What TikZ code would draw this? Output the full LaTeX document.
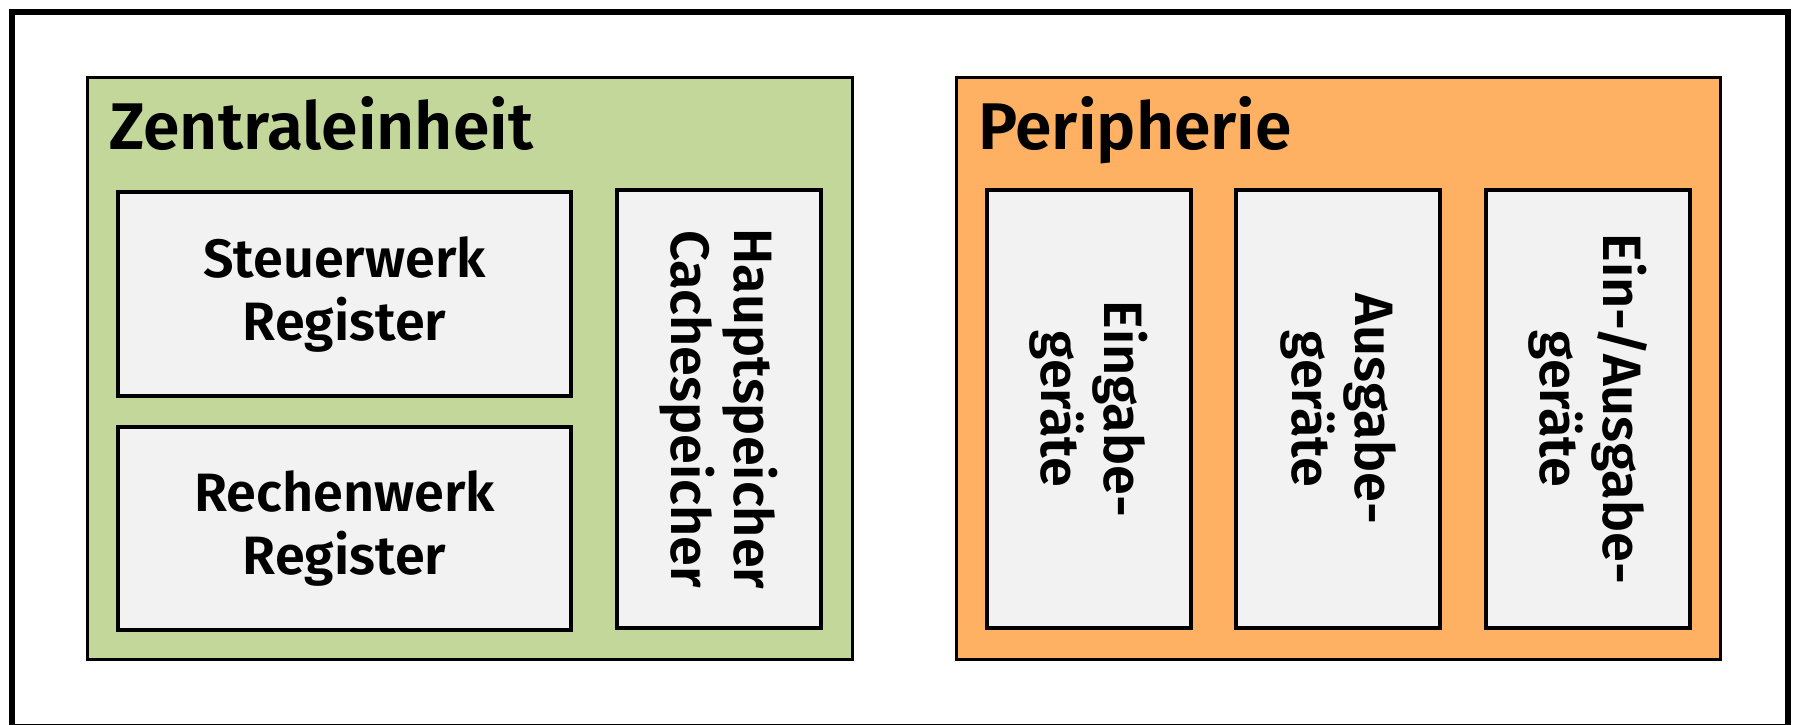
\documentclass[tikz,border=0pt]{standalone}
\usepackage{fontspec}
\setmainfont{Fira Sans}[BoldFont={Fira Sans SemiBold}]
\definecolor{cgreen}{HTML}{C4D79B}
\definecolor{corange}{HTML}{FFB163}
\definecolor{cgrey}{HTML}{F2F2F2}
\begin{document}
\begin{tikzpicture}[x=1pt,y=-1pt,
  grp/.style={draw=black, line width=3pt, inner sep=0pt},
  unit/.style={draw=black, line width=3.5pt, fill=cgrey, inner sep=0pt, align=center,
    font=\fontsize{54}{63}\selectfont\bfseries},
  vunit/.style={unit, rotate=-90, minimum width=438pt, minimum height=204pt},
  hunit/.style={unit, minimum width=453pt, minimum height=204pt},
  ttl/.style={anchor=base west, inner sep=0pt, font=\fontsize{66}{70}\selectfont\bfseries}]
\useasboundingbox (0,0) rectangle (1798,725);
\node[draw=black, line width=6pt, minimum width=1776pt, minimum height=715pt, inner sep=0pt] (frame) at (900,369.5) {};
\node[grp, fill=cgreen, minimum width=765pt, minimum height=582pt] (zen) at (469.5,368) {};
\node[grp, fill=corange, minimum width=764pt, minimum height=582pt] (per) at (1338,368) {};
\node[ttl] (zt) at (109,149) {Zentraleinheit};
\node[ttl] (pt) at (978,149) {Peripherie};
\node[hunit] (sw) at (344.5,294) {Steuerwerk\\Register};
\node[hunit, minimum height=203pt] (rw) at (344.5,528.5) {Rechenwerk\\Register};
\node[vunit] (hs) at (719,409) {Hauptspeicher\\Cachespeicher};
\node[vunit] (eg) at (1089,409) {Eingabe-\\geräte};
\node[vunit] (ag) at (1338,409) {Ausgabe-\\geräte};
\node[vunit] (ea) at (1588,409) {Ein-/Ausgabe-\\geräte};
\end{tikzpicture}
\end{document}
